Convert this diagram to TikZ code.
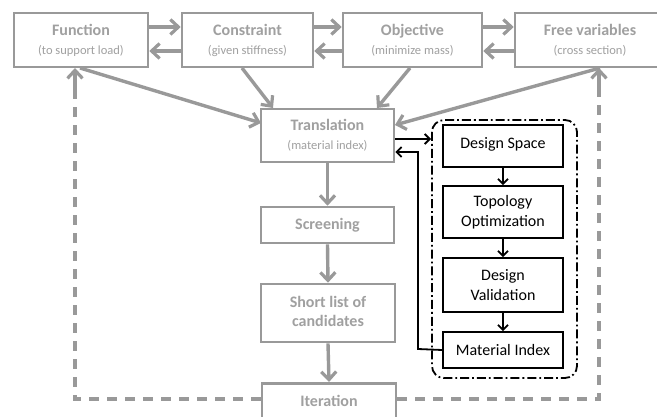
\documentclass[tikz,border=0pt]{standalone}
\usepackage{fontspec}
\setmainfont{Carlito}
\usetikzlibrary{arrows.meta}
\definecolor{lg}{HTML}{999999}
\definecolor{tg}{HTML}{A0A0A0}
\tikzset{
  gbox/.style={draw=lg, line width=2.6pt, fill=white, inner sep=0pt, align=center, text=tg},
  bbox/.style={draw=black, line width=1.8pt, fill=white, inner sep=0pt, align=center, font=\fontsize{16}{19}\selectfont},
  garr/.style={draw=lg, line width=3.4pt, -{Straight Barb[length=8pt,width=15pt,line width=3.2pt]}},
  barr/.style={draw=black, line width=1.8pt, -{Straight Barb[length=5pt,width=10pt,line width=1.8pt]}},
  gdash/.style={draw=lg, line width=3.2pt, dash pattern=on 10pt off 8pt},
  ttl/.style={font=\bfseries\fontsize{16}{20}\selectfont},
}
\newcommand{\twol}[2]{{\bfseries\fontsize{16}{18}\selectfont #1}\\[7pt]{\fontsize{12.5}{15}\selectfont #2}}
\begin{document}
\begin{tikzpicture}[x=1pt,y=-1pt]
\useasboundingbox (0,0) rectangle (657,417);
\clip (0,0) rectangle (657,417);
% top row
\node[gbox, minimum width=134pt, minimum height=54pt] (fun) at (81,40) {\twol{Function}{(to support load)}};
\node[gbox, minimum width=131pt, minimum height=54pt] (con) at (247.5,40) {\twol{Constraint}{(given stiffness)}};
\node[gbox, minimum width=139pt, minimum height=54pt] (obj) at (412.5,40) {\twol{Objective}{(minimize mass)}};
\node[gbox, minimum width=150pt, minimum height=54pt] (fre) at (590,40) {\twol{Free variables}{(cross section)}};
% middle column
\node[gbox, minimum width=133pt, minimum height=53pt] (tra) at (327.5,135.5) {\twol{Translation}{(material index)}};
\node[gbox, minimum width=133pt, minimum height=36pt, ttl] (scr) at (327.5,225) {Screening};
\node[gbox, minimum width=134pt, minimum height=58pt, ttl] (sho) at (328,313) {\raisebox{3pt}{\shortstack{Short list of\\[5pt]candidates}}};
\node[gbox, minimum width=134pt, minimum height=40pt, ttl, anchor=north] (ite) at (329,382) {\raisebox{5pt}{Iteration}};
% arrows top row
\draw[garr] ([yshift=13pt]fun.east) -- ([yshift=13pt]con.west);
\draw[garr] ([yshift=-11pt]con.west) -- ([yshift=-11pt]fun.east);
\draw[garr] ([yshift=13pt]con.east) -- ([yshift=13pt]obj.west);
\draw[garr] ([yshift=-11pt]obj.west) -- ([yshift=-11pt]con.east);
\draw[garr] ([yshift=13pt]obj.east) -- ([yshift=13pt]fre.west);
\draw[garr] ([yshift=-11pt]fre.west) -- ([yshift=-11pt]obj.east);
% into translation
\coordinate (fb) at (80,68);
\coordinate (cb) at (242,68);
\coordinate (ob) at (410,68);
\coordinate (frb) at (600,68);
\draw[garr] (fb) -- (261,123);
\draw[garr] (cb) -- (273,108);
\draw[garr] (ob) -- (377,108);
\draw[garr] (frb) -- (395,125);
% down column
\draw[garr] (tra.south) -- (scr.north);
\draw[garr] (scr.south) -- (sho.north);
\draw[garr] (sho.south) -- (ite.north);
% dashed feedback
\draw[gdash] (ite.west |- 0,399) -- (75,399) -- (75,80);
\draw[garr] (75,92) -- (75,68);
\draw[gdash] (ite.east |- 0,399) -- (599,399) -- (599,80);
\draw[garr] (599,92) -- (599,68);
% design loop
\draw[black, line width=1.8pt, dash pattern=on 9pt off 3pt on 1.8pt off 3pt, rounded corners=12pt] (432,120) rectangle (577,378);
\node[bbox, minimum width=120pt, minimum height=42pt] (ds) at (503,146) {\raisebox{6pt}{Design Space}};
\node[bbox, minimum width=120pt, minimum height=52pt] (to) at (503,212) {Topology\\[1pt]Optimization};
\node[bbox, minimum width=120pt, minimum height=54pt] (dv) at (503,285) {Design\\[1pt]Validation};
\node[bbox, minimum width=120pt, minimum height=36pt] (mi) at (503,350) {Material Index};
\draw[barr] (ds.south) -- (to.north);
\draw[barr] (to.south) -- (dv.north);
\draw[barr] (dv.south) -- (mi.north);
\draw[barr] ([yshift=-3.5pt]tra.east) -- (431,139);
\coordinate (rl) at (418,349);
\draw[barr] (mi.west) -- (rl) -- (418,152) -- (tra.east |- 0,152);
\end{tikzpicture}
\end{document}
